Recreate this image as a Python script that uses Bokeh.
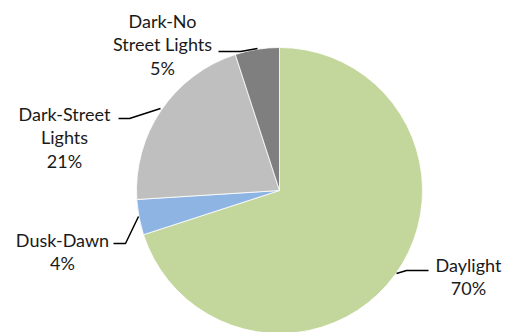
import math
from bokeh.plotting import figure
from bokeh.models import ColumnDataSource
from bokeh.core.properties import value
from bokeh.embed import file_html
from bokeh.resources import INLINE

categories = ["Daylight", "Dusk-Dawn", "Dark-Street Lights", "Dark-No Street Lights"]
values = [70, 4, 21, 5]
colors = ["#C3D69B", "#8EB4E3", "#BFBFBF", "#7F7F7F"]
label_lines = [["Daylight"], ["Dusk-Dawn"], ["Dark-Street", "Lights"], ["Dark-No", "Street Lights"]]

W, H = 509, 332
cx, cy, r = 279, H - 190, 143

total = sum(values)
starts, ends = [], []
acc = 0.0
for v in values:
    a0 = math.pi / 2 - 2 * math.pi * acc / total
    acc += v
    a1 = math.pi / 2 - 2 * math.pi * acc / total
    starts.append(a0)
    ends.append(a1)

src = ColumnDataSource(dict(cat=categories, val=values, color=colors, start=starts, end=ends))

p = figure(width=W, height=H, x_range=(0, W), y_range=(0, H), output_backend="svg",
           toolbar_location=None, min_border=0)
p.axis.visible = False
p.grid.visible = False
p.outline_line_color = None
p.background_fill_color = "white"

p.wedge(x=cx, y=cy, radius=r, start_angle="end", end_angle="start", direction="anticlock",
        fill_color="color", line_color="white", line_width=0.8, source=src)

# label positions: (center x, y of first line) in screen coords
lab_pos = [(468, 264), (62, 239), (64, 113), (162, 20)]
line_gap = 23.5
tx, ty, tt = [], [], []
for (x0, y0), lines, v in zip(lab_pos, label_lines, values):
    all_lines = lines + [f"{round(100 * v / total)}%"]
    for i, s in enumerate(all_lines):
        tx.append(x0)
        ty.append(H - (y0 + i * line_gap))
        tt.append(s)
p.text(x=tx, y=ty, text=tt, text_align="center", text_baseline="middle",
       text_font=value("Lato"), text_font_size="18px", text_color="#1a1a1a")

leaders = [
    [(396, 273), (406, 270), (428, 270)],
    [(113, 243), (125, 243), (138, 216)],
    [(118, 118), (129, 118), (160, 108)],
    [(218, 51), (240, 51), (257, 48)],
]
p.multi_line(xs=[[pt[0] for pt in l] for l in leaders],
             ys=[[H - pt[1] for pt in l] for l in leaders],
             line_color="black", line_width=1.5)

open("out.html", "w").write(file_html(p, INLINE))
